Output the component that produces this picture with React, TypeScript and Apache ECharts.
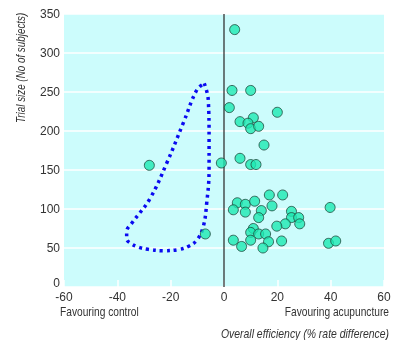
import React, { useEffect, useRef } from "react";
import * as echarts from "echarts";

// Overall efficiency (% rate difference) for each trial
const effX: number[] = [
  4, 3, 10, 2, 20, 6, 11, 9, 10, 13, 15, 6, -1, 10, 12,
  -28, -7,
  17, 22, 5, 8, 11.5, 18, 3.5, 8, 14, 25.3, 13, 25.3, 28, 28.4, 23, 19.8,
  11, 10, 13, 15.6, 3.5, 10, 16.7, 21.6, 6.6, 14.6, 39.8, 39.2, 41.9,
];
// Trial size (no of subjects)
const trialSize: number[] = [
  330, 252, 252, 230, 224, 212, 217, 210, 203, 206, 182, 165, 159, 157, 157,
  156, 68,
  118, 118, 108, 106, 110, 104, 99, 96, 98, 97, 89, 89, 89, 81, 81, 78,
  75, 70, 68, 68, 60, 60, 58, 59, 52, 50, 102, 56, 59,
];

// Hand-drawn dotted outline (asymmetry region)
const loopX: number[] = [
  -7.4, -5.9, -5.6, -5.6, -6.5, -7.8, -10.2, -13.4, -17, -22.8, -28.4, -32, -35, -36.5, -36.5,
  -34.6, -27.7, -21.5, -15.3, -10.2, -7.4,
];
const loopY: number[] = [
  261, 240, 190, 150, 107, 77, 60, 52, 48, 46.5, 48.3, 51, 56, 62, 71,
  81.6, 113.7, 158.6, 210, 252.6, 261,
];

const xTicks = { min: -60, max: 60, interval: 20 };
const yTicks = { min: 0, max: 350, interval: 50 };

const yTitle = "Trial size (No of subjects)";
const xLeftNote = "Favouring control";
const xRightNote = "Favouring acupuncture";
const xTitle = "Overall efficiency (% rate difference)";

const FONT = "'Liberation Sans', Arial, sans-serif";

export default function App() {
  const ref = useRef<HTMLDivElement>(null);
  useEffect(() => {
    if (!ref.current) return;
    const chart = echarts.init(ref.current, undefined, { renderer: "svg" });
    chart.setOption({
      animation: false,
      grid: {
        left: 64,
        right: 17,
        top: 14,
        bottom: 53,
        show: true,
        backgroundColor: "#ccfcfc",
        borderWidth: 0,
      },
      xAxis: {
        type: "value",
        min: xTicks.min,
        max: xTicks.max,
        interval: xTicks.interval,
        axisLine: { show: false },
        axisTick: { show: true, inside: true, length: 7, lineStyle: { color: "#ffffff", width: 1.5 } },
        splitLine: { show: false },
        axisLabel: { color: "#333", fontSize: 12, fontFamily: FONT, margin: 4 },
      },
      yAxis: {
        type: "value",
        min: yTicks.min,
        max: yTicks.max,
        interval: yTicks.interval,
        axisLine: { show: false },
        axisTick: { show: false },
        splitLine: { show: true, lineStyle: { color: "#ffffff", width: 1.5 } },
        axisLabel: {
          color: "#333",
          fontSize: 12,
          fontFamily: FONT,
          margin: 4,
          formatter: (v: number) => (v === 0 ? "{z|0}" : String(v)),
          rich: { z: { color: "#333", fontSize: 12, fontFamily: FONT, padding: [0, 0, 8, 0] } },
        },
      },
      series: [
        {
          type: "line",
          data: [[0, 0], [0, 350]],
          symbol: "none",
          lineStyle: { color: "#333", width: 1.3 },
          silent: true,
          z: 3,
        },
        {
          type: "line",
          data: loopX.map((x, i) => [x, loopY[i]]),
          smooth: 0.4,
          symbol: "none",
          lineStyle: { color: "#0a0af0", width: 3.5, type: [3, 4], cap: "butt" },
          silent: true,
          z: 4,
        },
        {
          type: "scatter",
          data: effX.map((x, i) => [x, trialSize[i]]),
          symbol: "circle",
          symbolSize: 10,
          itemStyle: { color: "#1de8b2", borderColor: "#1e4a3c", borderWidth: 1 },
          z: 5,
        },
      ],
      graphic: [
        {
          type: "text",
          x: 21,
          y: 123,
          rotation: Math.PI / 2,
          scaleX: 0.82,
          style: {
            text: yTitle,
            fill: "#333",
            font: `italic 12px ${FONT}`,
            textAlign: "left",
            textVerticalAlign: "middle",
          },
        },
        {
          type: "text",
          x: 60,
          y: 312,
          scaleX: 0.85,
          style: { text: xLeftNote, fill: "#333", font: `12px ${FONT}`, textAlign: "left", textVerticalAlign: "middle" },
        },
        {
          type: "text",
          x: 389,
          y: 312,
          scaleX: 0.85,
          style: { text: xRightNote, fill: "#333", font: `12px ${FONT}`, textAlign: "right", textVerticalAlign: "middle" },
        },
        {
          type: "text",
          x: 389,
          y: 334,
          scaleX: 0.87,
          style: { text: xTitle, fill: "#333", font: `italic 12px ${FONT}`, textAlign: "right", textVerticalAlign: "middle" },
        },
      ],
    });
    return () => chart.dispose();
  }, []);
  return <div ref={ref} style={{ position: "fixed", left: 0, top: 0, width: 401, height: 340 }} />;
}
